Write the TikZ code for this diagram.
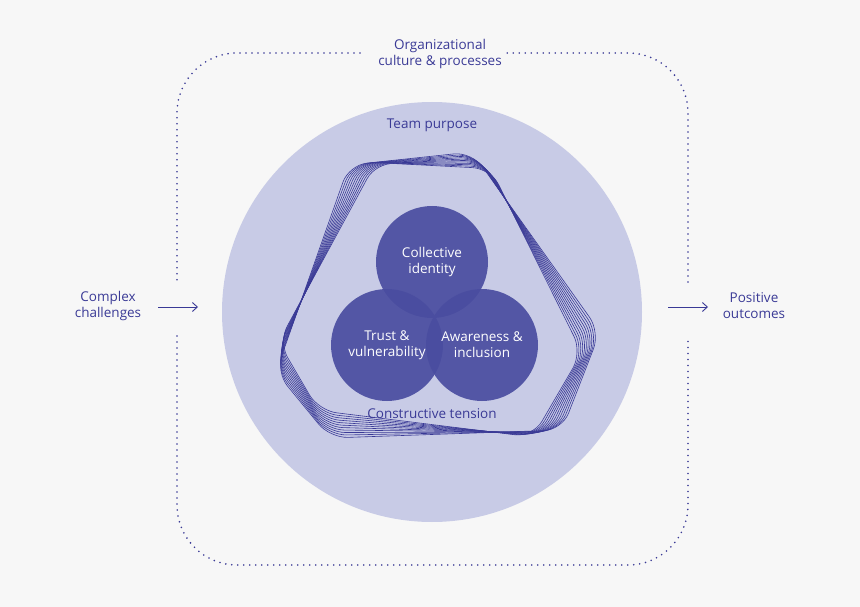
\documentclass[tikz,border=0pt]{standalone}
\usepackage{fontspec}
\setmainfont{Open Sans}
\usetikzlibrary{arrows.meta,calc}
\definecolor{bg}{HTML}{F7F7F7}
\definecolor{ink}{HTML}{3A3A96}
\definecolor{big}{HTML}{C8CBE6}
\definecolor{dark}{HTML}{4A4DA0}
\begin{document}
\begin{tikzpicture}[x=1pt,y=-1pt,
  lbl/.style={text=ink,font=\fontsize{13.5}{16}\selectfont,align=center},
  wlbl/.style={text=white,font=\fontsize{13.5}{16}\selectfont,align=center},
  dots/.style={draw=ink,line width=1.8pt,dash pattern=on 0pt off 6pt,line cap=round,rounded corners=60},
  arr/.style={draw=ink,line width=0.9pt,-{Straight Barb[length=5pt,width=9pt]}},
  circ/.style={circle,fill=dark,fill opacity=0.92,minimum size=112,inner sep=0}]
\fill[bg] (0,0) rectangle (860,607);
\useasboundingbox (0,0) rectangle (860,607);
\node[circle,fill=big,minimum size=420,inner sep=0] (team) at (432,312) {};
% swirl
\foreach \i in {0,...,10}{
  \pgfmathsetmacro{\s}{1-\i*0.007}
  \draw[ink,line width=0.6pt,rounded corners=18,rotate around={-\i*0.9:(440,298)}]
    ($(440,298)!\s!(349,165)$) -- ($(440,298)!\s!(472,152)$) --
    ($(440,298)!\s!(600,332)$) -- ($(440,298)!\s!(562,430)$) --
    ($(440,298)!\s!(330,438)$) -- ($(440,298)!\s!(276,372)$) -- cycle;
}
\node[circ] (ci) at (432,262) {};
\node[circ] (tv) at (387,345) {};
\node[circ] (ai) at (482,345) {};
\node[wlbl] at (ci.center) {Collective\\identity};
\node[wlbl] at (tv.center) {Trust \&\\vulnerability};
\node[wlbl] at (ai.center) {Awareness \&\\inclusion};
\node[lbl] (tp) at (432,125) {Team purpose};
\node[lbl] (ct) at (432,414) {Constructive tension};
\node[lbl] (org) at (440,54) {Organizational\\culture \& processes};
\node[lbl] (cc) at (108,306) {Complex\\challenges};
\node[lbl] (po) at (754,306) {Positive\\outcomes};
\coordinate (la) at (158,307); \coordinate (lb) at (198,307);
\coordinate (ra) at (668,307); \coordinate (rb) at (708,307);
\draw[arr] (la) -- (lb);
\draw[arr] (ra) -- (rb);
\path[dots] (360,53) -- (177,53) -- (177,280);
\path[dots] (177,336) -- (177,565) -- (688,565) -- (688,338);
\path[dots] (688,282) -- (688,53) -- (502,53);
\end{tikzpicture}
\end{document}
